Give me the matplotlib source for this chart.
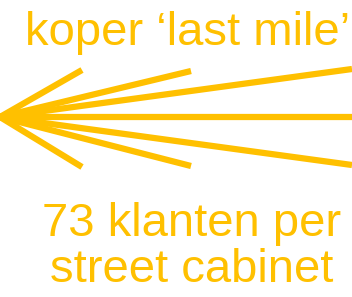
import matplotlib
matplotlib.use("Agg")
import matplotlib.pyplot as plt

# fan of copper lines from the street cabinet (pixel coordinates of the picture)
origin = (0, 117)
end_x = [82, 82, 191, 191, 352, 352, 352]
end_y = [70, 167, 71, 166, 69, 165, 117]

title_text = "koper \u2018last mile\u2019"
caption_text = "73 klanten per\nstreet cabinet"

gold = "#FFC000"

fig = plt.figure(figsize=(3.52, 2.97), dpi=100)
ax = fig.add_axes([0, 0, 1, 1])
ax.set_xlim(0, 352)
ax.set_ylim(297, 0)
ax.axis("off")

for x, y in zip(end_x, end_y):
    ax.plot([origin[0], x], [origin[1], y], color=gold, linewidth=4.5,
            solid_capstyle="butt")

ax.text(188, 45, title_text, color=gold, fontsize=34, family="Liberation Sans",
        ha="center", va="baseline")
ax.text(192, 282, caption_text, color=gold, fontsize=34, family="Liberation Sans",
        ha="center", va="baseline", linespacing=1.05, multialignment="center")

fig.savefig("out.png", dpi=100)
